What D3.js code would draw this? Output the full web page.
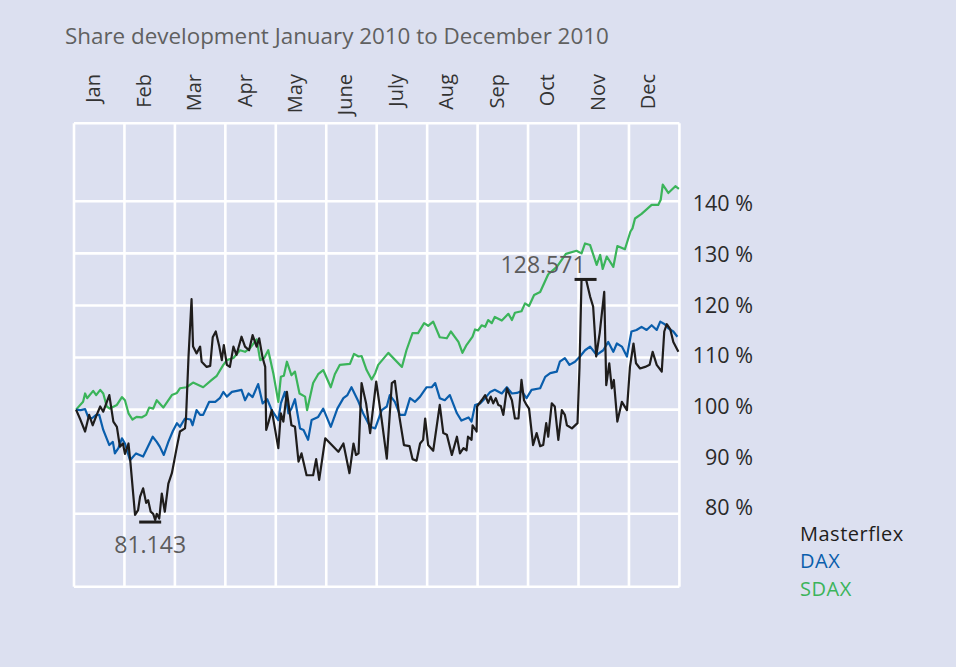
<!DOCTYPE html>
<html>
<head>
<meta charset="utf-8">
<script src="https://cdn.jsdelivr.net/npm/d3@7"></script>
<style>
  html, body { margin: 0; padding: 0; background: #dce0f0; }
  svg { display: block; }
  text { font-family: "Open Sans", "Noto Sans", sans-serif; }
</style>
</head>
<body>
<svg id="chart" width="956" height="667"></svg>
<script>
// ---------- data ----------
const title = "Share development January 2010 to December 2010";
const months = ["Jan","Feb","Mar","Apr","May","June","July","Aug","Sep","Oct","Nov","Dec"];
const yTicks = [80, 90, 100, 110, 120, 130, 140];
const yTickLabels = ["80 %","90 %","100 %","110 %","120 %","130 %","140 %"];
const seriesNames = ["Masterflex", "DAX", "SDAX"];
const seriesColors = ["#1f1d1c", "#0a5eac", "#3bb45a"];

// [time in months since 1 Jan 2010, index value in %]
const masterflex = [
[0.04,100],[0.13,98.0],[0.22,95.8],[0.30,99.0],[0.37,97.0],[0.45,99.0],[0.52,100.6],[0.58,99.6],[0.70,102.8],
[0.78,97.7],[0.85,96.7],[0.91,92.9],[0.97,93.5],[1.01,91.5],[1.08,93.5],[1.12,89.7],[1.21,79.8],[1.27,80.7],
[1.31,83.3],[1.37,84.9],[1.43,82.1],[1.47,82.6],[1.52,80.4],[1.57,80.0],[1.61,78.8],[1.64,80.0],[1.69,79.1],
[1.74,83.9],[1.80,80.4],[1.87,85.8],[1.94,87.8],[2.04,92.9],[2.10,95.8],[2.20,96.4],[2.22,98.3],[2.27,110.2],
[2.33,121.2],[2.36,112.1],[2.43,110.8],[2.50,112.1],[2.53,109.2],[2.63,108.2],[2.70,108.4],[2.75,113.9],
[2.81,115.0],[2.88,112.1],[2.93,109.5],[2.97,112.4],[3.03,108.6],[3.09,108.2],[3.16,112.1],[3.22,110.5],
[3.32,114.0],[3.39,112.1],[3.47,111.4],[3.54,114.3],[3.62,112.1],[3.67,113.7],[3.74,109.9],[3.79,108.2],
[3.81,96.1],[3.85,97.4],[3.92,99.9],[4.05,92.6],[4.10,99.3],[4.15,97.7],[4.22,103.4],[4.31,97.0],[4.38,96.7],
[4.45,90.0],[4.51,91.6],[4.61,87.4],[4.74,87.4],[4.80,90.5],[4.86,86.5],[4.98,94.5],[5.11,93.2],[5.24,91.9],
[5.34,93.5],[5.46,87.8],[5.54,93.5],[5.59,91.3],[5.64,91.6],[5.70,105.1],[5.79,101.2],[5.87,95.5],[5.99,105.4],
[6.10,98.0],[6.20,90.6],[6.30,105.1],[6.36,105.5],[6.45,98.6],[6.54,93.2],[6.65,93.0],[6.71,90.5],[6.79,90.2],
[6.86,93.5],[6.92,94.2],[6.96,98.3],[7.02,93.2],[7.12,92.1],[7.25,100.9],[7.32,95.5],[7.39,95.2],[7.49,91.3],
[7.59,94.8],[7.65,91.6],[7.72,92.6],[7.78,92.2],[7.81,94.8],[7.88,94.2],[7.90,97.0],[7.98,95.8],[7.99,100.6],
[8.08,101.8],[8.15,102.8],[8.21,101.3],[8.26,102.5],[8.31,101.2],[8.36,102.2],[8.41,100.9],[8.46,100.7],
[8.51,99.0],[8.58,104.1],[8.68,101.8],[8.74,98.3],[8.81,98.3],[8.87,105.7],[8.92,101.8],[8.97,100.9],[9.02,100.2],
[9.10,93.2],[9.17,95.5],[9.24,93.0],[9.30,93.2],[9.36,97.4],[9.40,94.8],[9.47,101.2],[9.53,100.6],[9.60,94.2],
[9.67,99.9],[9.73,99.0],[9.77,97.0],[9.87,96.4],[9.98,97.4],[10.02,108.2],[10.06,124.9],[10.15,125.0],
[10.23,121.7],[10.29,119.8],[10.32,115.3],[10.35,110.2],[10.42,114.7],[10.51,122.6],[10.55,104.7],[10.61,108.9],
[10.66,104.1],[10.70,105.7],[10.77,97.7],[10.86,101.5],[10.96,99.9],[11.02,108.2],[11.09,112.7],[11.14,108.9],
[11.22,107.9],[11.32,108.2],[11.41,108.6],[11.47,111.1],[11.55,108.6],[11.65,107.3],[11.70,115.0],[11.75,116.4],
[11.82,115.4],[11.88,113.0],[11.98,111.1]
];

const dax = [
[0.04,100],[0.13,99.9],[0.22,100.1],[0.28,98.6],[0.35,98.3],[0.44,99.0],[0.50,99.0],[0.58,96.1],[0.70,93.2],
[0.77,93.8],[0.81,91.6],[0.88,92.6],[0.95,94.5],[1.01,93.5],[1.11,90.3],[1.23,91.6],[1.37,91.0],[1.45,92.6],
[1.56,94.8],[1.64,93.8],[1.70,92.9],[1.78,91.3],[1.87,93.8],[1.96,95.9],[2.04,97.4],[2.10,96.7],[2.20,98.3],
[2.31,98.1],[2.35,97.0],[2.43,99.9],[2.50,99.0],[2.56,99.0],[2.68,101.5],[2.80,101.5],[2.89,102.2],[2.96,103.4],
[3.03,102.5],[3.13,103.4],[3.23,103.6],[3.32,103.8],[3.39,101.8],[3.46,103.1],[3.54,102.4],[3.65,104.9],
[3.74,101.2],[3.83,102.0],[3.92,99.9],[4.05,98.0],[4.10,101.2],[4.18,103.4],[4.25,99.3],[4.31,100.2],[4.38,102.0],
[4.48,96.4],[4.55,96.1],[4.64,94.2],[4.71,98.0],[4.84,98.6],[4.94,100.2],[5.09,96.7],[5.22,100.2],[5.34,102.2],
[5.42,102.8],[5.50,104.3],[5.64,101.5],[5.73,99.3],[5.87,96.7],[5.97,96.4],[6.10,99.9],[6.20,100.6],[6.26,102.8],
[6.36,101.5],[6.46,99.0],[6.56,99.0],[6.66,102.2],[6.76,101.5],[6.86,102.5],[6.99,104.3],[7.09,104.3],[7.16,105.1],
[7.25,102.2],[7.35,101.8],[7.45,102.8],[7.59,99.3],[7.68,97.9],[7.82,98.5],[7.88,97.7],[7.95,100.9],[8.05,101.2],
[8.15,102.2],[8.25,103.4],[8.34,103.8],[8.48,103.1],[8.58,104.3],[8.68,103.1],[8.78,103.2],[8.87,103.6],
[8.97,102.2],[9.07,103.8],[9.24,104.1],[9.34,106.3],[9.44,107.0],[9.57,107.3],[9.63,109.2],[9.73,109.9],
[9.82,108.6],[9.93,109.2],[10.03,110.2],[10.13,111.4],[10.23,112.1],[10.36,110.5],[10.49,111.4],[10.59,113.0],
[10.69,111.1],[10.76,112.7],[10.86,112.1],[10.96,110.2],[11.05,115.0],[11.15,115.3],[11.25,115.9],[11.35,115.3],
[11.45,116.2],[11.55,115.3],[11.62,116.9],[11.71,116.4],[11.78,115.6],[11.88,115.0],[11.96,114.0]
];

const sdax = [
[0.04,100],[0.18,101.5],[0.22,103.1],[0.26,102.2],[0.38,103.6],[0.44,102.8],[0.52,103.8],[0.58,103.1],[0.65,100.6],
[0.71,100.2],[0.85,100.9],[0.95,102.4],[1.01,101.8],[1.08,99.3],[1.16,98.1],[1.24,98.6],[1.34,98.5],[1.43,99.0],
[1.49,100.4],[1.57,100.2],[1.64,101.8],[1.77,100.4],[1.94,102.8],[2.04,103.2],[2.10,104.1],[2.23,104.3],
[2.36,105.2],[2.56,104.3],[2.73,105.7],[2.83,106.5],[2.96,108.6],[3.03,109.5],[3.16,109.9],[3.29,111.4],
[3.39,111.1],[3.49,111.8],[3.62,113.5],[3.69,109.5],[3.77,109.9],[3.85,111.4],[3.95,107.0],[4.05,101.5],
[4.10,106.3],[4.16,106.5],[4.22,109.2],[4.31,106.6],[4.38,107.3],[4.47,103.1],[4.58,102.5],[4.62,99.9],
[4.74,105.1],[4.84,106.8],[4.94,107.6],[5.09,104.3],[5.17,106.8],[5.27,108.6],[5.47,108.8],[5.55,110.7],
[5.64,110.2],[5.70,110.3],[5.80,107.6],[5.90,105.8],[5.97,107.0],[6.03,108.6],[6.23,110.9],[6.50,108.2],
[6.59,111.4],[6.71,114.7],[6.82,114.7],[6.94,116.6],[7.02,116.1],[7.12,116.9],[7.25,113.9],[7.39,113.7],
[7.47,115.0],[7.62,113.0],[7.70,110.9],[7.78,112.4],[7.90,114.0],[7.95,115.4],[8.01,115.2],[8.08,116.2],
[8.15,115.9],[8.21,117.2],[8.28,116.6],[8.34,117.8],[8.48,117.1],[8.61,118.4],[8.68,117.2],[8.74,118.6],
[8.87,118.9],[8.94,120.4],[9.02,119.9],[9.12,122.0],[9.24,122.6],[9.40,126.0],[9.57,127.4],[9.75,129.9],
[9.96,130.5],[10.06,130.0],[10.13,131.9],[10.23,131.6],[10.36,127.8],[10.43,129.7],[10.48,127.0],[10.56,129.4],
[10.69,127.4],[10.77,131.4],[10.92,130.8],[11.03,134.2],[11.07,134.8],[11.12,136.7],[11.25,137.6],[11.45,139.3],
[11.58,139.3],[11.63,140.3],[11.67,143.2],[11.78,141.6],[11.92,142.9],[11.99,142.4]
];

const annotLabels = ["81.143", "128.571"];
const annotMonths = [1.51, 10.14];

// ---------- layout ----------
const svg = d3.select("#chart");
svg.append("rect").attr("width", 956).attr("height", 667).attr("fill", "#dce0f0");

const x = d3.scaleLinear().domain([0, 12]).range([74, 679.4]);
const y = d3.scaleLinear().domain([80, 140]).range([513.8, 201.3]);
const yLab = d3.scaleLinear().domain([80, 140]).range([507.5, 203.5]);
const frame = [66, 155]; // bottom and top of the plot frame, in % units

// title
svg.append("text").attr("x", 65).attr("y", 44)
  .attr("font-size", 22.4).attr("fill", "#606060").text(title);

// grid
const grid = svg.append("g").attr("stroke", "#ffffff").attr("stroke-width", 2.6);
grid.selectAll("line.v").data(d3.range(0, 13)).join("line")
  .attr("x1", d => x(d)).attr("x2", d => x(d))
  .attr("y1", y(frame[1])).attr("y2", y(frame[0]));
grid.selectAll("line.h").data(yTicks.concat(frame)).join("line")
  .attr("x1", x(0)).attr("x2", x(12))
  .attr("y1", d => y(d)).attr("y2", d => y(d));

// month labels
svg.append("g").selectAll("text").data(months).join("text")
  .attr("transform", (d, i) => `translate(${x(i + 0.5) + 1},74) rotate(-90)`)
  .attr("text-anchor", "end").attr("font-size", 20).attr("fill", "#333333")
  .text(d => d);

// y labels
svg.append("g").selectAll("text").data(yTicks).join("text")
  .attr("x", 753).attr("y", d => yLab(d)).attr("dy", "0.36em")
  .attr("text-anchor", "end").attr("font-size", 21.5).attr("fill", "#2a2a2a")
  .text((d, i) => yTickLabels[i]);

// lines
const line = d3.line().x(d => x(d[0])).y(d => y(d[1]));
const allSeries = [sdax, dax, masterflex];
const allColors = [seriesColors[2], seriesColors[1], seriesColors[0]];
svg.append("g").selectAll("path").data(allSeries).join("path")
  .attr("d", line).attr("fill", "none")
  .attr("stroke", (d, i) => allColors[i]).attr("stroke-width", 2.2)
  .attr("stroke-linejoin", "round");

// min/max annotations
const minV = d3.min(masterflex, d => d[1]);
const maxV = d3.max(masterflex, d => d[1]);
const ann = svg.append("g");
[[annotMonths[0], y(minV) + 2, annotLabels[0], "middle", 31],
 [annotMonths[1], y(maxV), annotLabels[1], "end", -6]].forEach(([m, yy, lab, anchor, off]) => {
  ann.append("line").attr("x1", x(m) - 11).attr("x2", x(m) + 11)
    .attr("y1", yy).attr("y2", yy).attr("stroke", "#1f1d1c").attr("stroke-width", 3);
  ann.append("text").attr("x", x(m)).attr("y", yy + off)
    .attr("text-anchor", anchor).attr("font-size", 23).attr("fill", "#5c5c5c").text(lab);
});

// legend
svg.append("g").selectAll("text").data(seriesNames).join("text")
  .attr("x", 800).attr("y", (d, i) => 540.5 + i * 27.5)
  .attr("font-size", 20).attr("letter-spacing", 0.5)
  .attr("fill", (d, i) => seriesColors[i]).text(d => d);
</script>
</body>
</html>
